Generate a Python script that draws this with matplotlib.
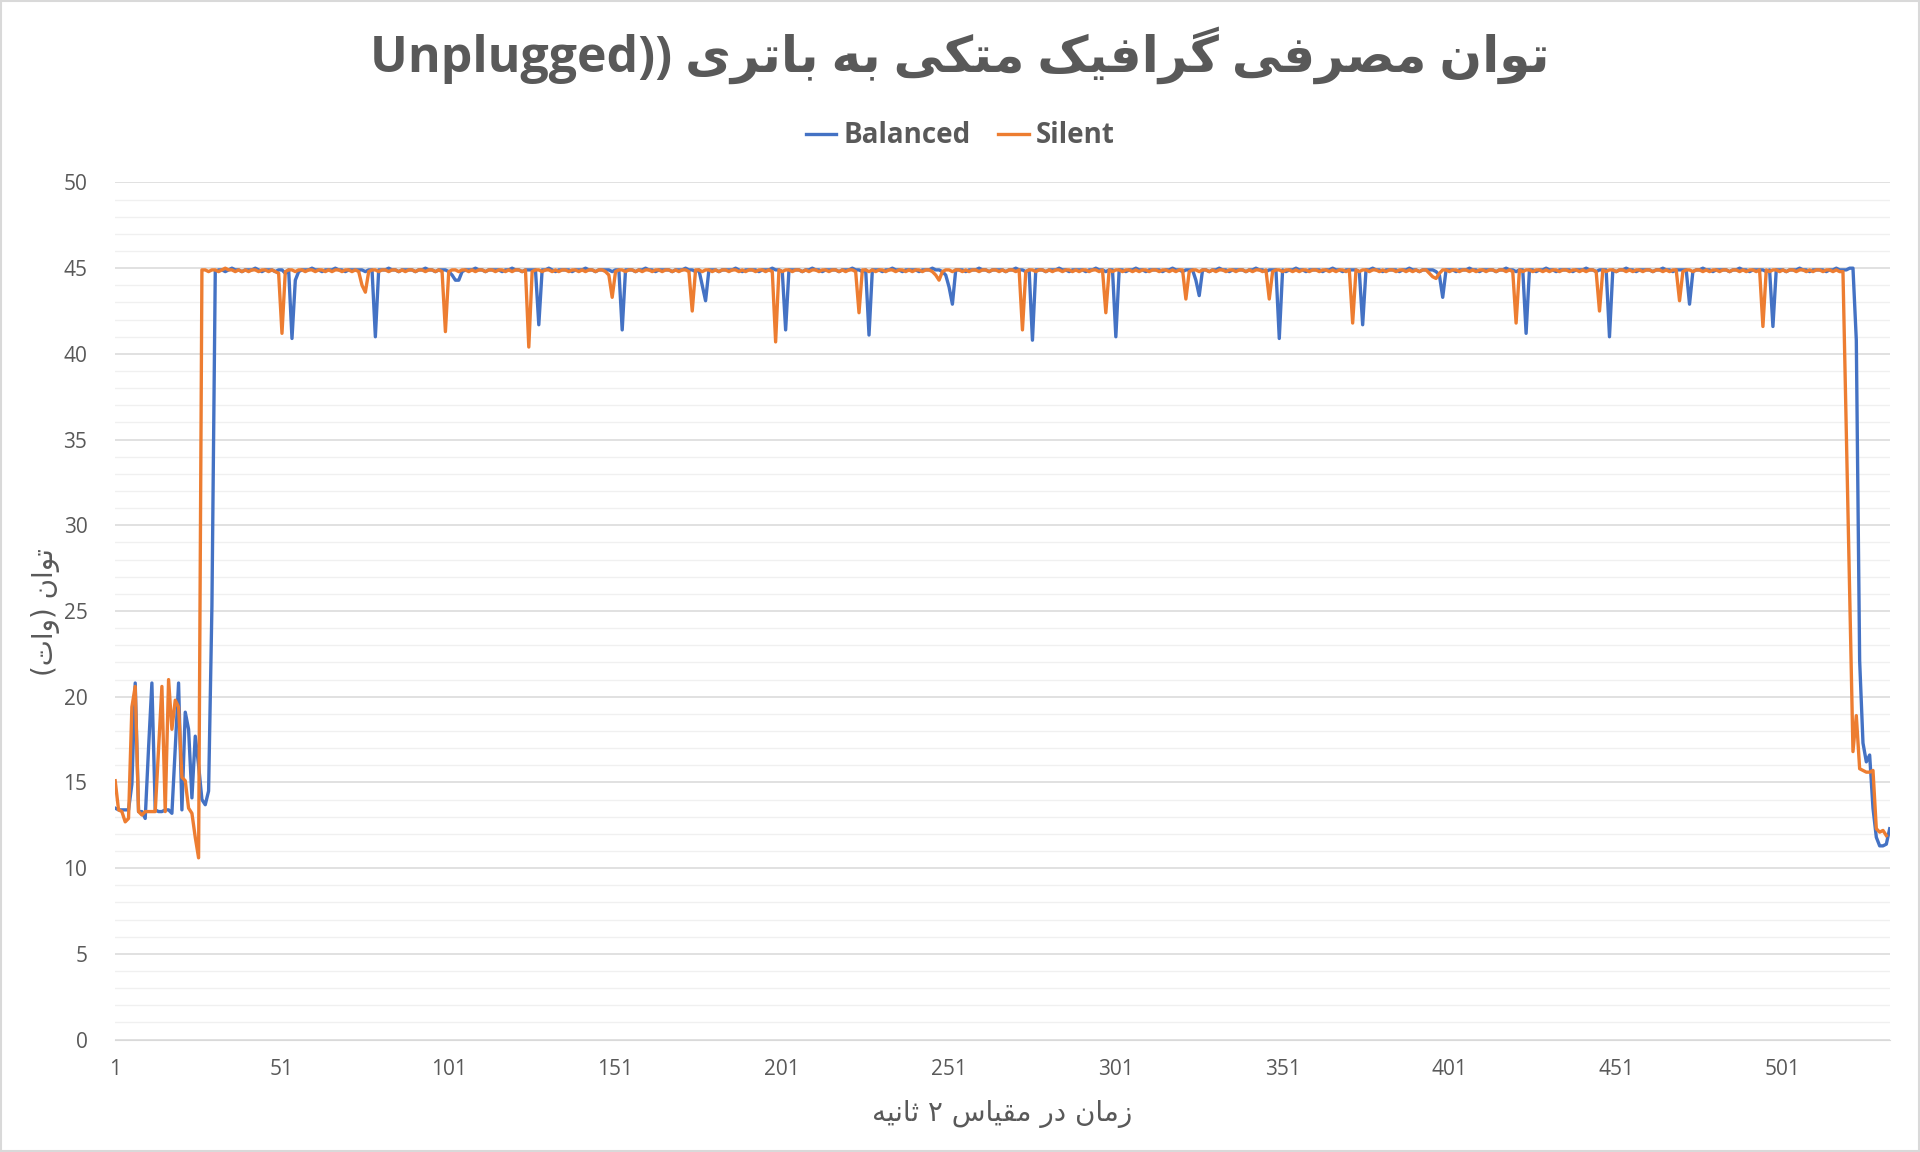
import unicodedata
import matplotlib
matplotlib.use("Agg")
import matplotlib.pyplot as plt
from matplotlib.lines import Line2D
from matplotlib.patches import Rectangle
from matplotlib.ticker import MultipleLocator

# power draw (W), one sample per 2 s
balanced = [
    13.5, 13.4, 13.4, 13.4, 13.4, 14.9, 20.8, 13.3, 13.3, 12.9, 17.0, 20.8, 13.4, 13.3, 13.3, 13.4, 13.4, 13.2, 17.0, 20.8,
    13.4, 19.1, 18.1, 14.1, 17.7, 16.0, 14.0, 13.7, 14.5, 25.3, 44.8, 44.9, 44.9, 44.8, 44.9, 45.0, 44.9, 44.9, 44.8, 44.9,
    44.9, 44.9, 45.0, 44.9, 44.8, 44.9, 44.9, 44.9, 44.8, 44.9, 44.9, 44.7, 44.9, 40.9, 44.3, 44.8, 44.9, 44.9, 44.9, 45.0,
    44.9, 44.9, 44.8, 44.9, 44.9, 44.9, 45.0, 44.9, 44.9, 44.8, 44.9, 44.9, 44.9, 44.9, 44.9, 44.8, 44.9, 44.9, 41.0, 44.9,
    44.9, 44.9, 45.0, 44.9, 44.9, 44.8, 44.9, 44.9, 44.9, 44.9, 44.8, 44.9, 44.9, 45.0, 44.9, 44.9, 44.8, 44.9, 44.9, 44.9,
    44.8, 44.6, 44.3, 44.3, 44.8, 44.9, 44.9, 44.9, 45.0, 44.9, 44.9, 44.8, 44.9, 44.9, 44.9, 44.9, 44.8, 44.9, 44.9, 45.0,
    44.9, 44.9, 44.8, 44.9, 44.9, 44.9, 44.9, 41.7, 44.9, 44.9, 45.0, 44.9, 44.8, 44.9, 44.9, 44.9, 44.9, 44.8, 44.9, 44.9,
    44.9, 45.0, 44.9, 44.9, 44.8, 44.9, 44.9, 44.9, 44.9, 44.8, 44.9, 44.9, 41.4, 44.9, 44.9, 44.9, 44.8, 44.9, 44.9, 45.0,
    44.9, 44.9, 44.8, 44.9, 44.9, 44.9, 44.9, 44.8, 44.9, 44.9, 44.9, 45.0, 44.9, 44.9, 44.8, 44.9, 44.0, 43.1, 44.9, 44.9,
    44.9, 44.8, 44.9, 44.9, 44.9, 44.9, 45.0, 44.9, 44.8, 44.9, 44.9, 44.9, 44.9, 44.8, 44.9, 44.9, 44.9, 45.0, 44.9, 44.9,
    44.8, 41.4, 44.9, 44.9, 44.9, 44.9, 44.8, 44.9, 44.9, 45.0, 44.9, 44.9, 44.8, 44.9, 44.9, 44.9, 44.9, 44.8, 44.9, 44.9,
    44.9, 45.0, 44.9, 44.9, 44.8, 44.9, 41.1, 44.9, 44.9, 44.9, 44.8, 44.9, 44.9, 45.0, 44.9, 44.9, 44.8, 44.9, 44.9, 44.9,
    44.9, 44.8, 44.9, 44.9, 44.9, 45.0, 44.9, 44.9, 44.8, 44.6, 43.9, 42.9, 44.9, 44.9, 44.9, 44.8, 44.9, 44.9, 44.9, 45.0,
    44.9, 44.9, 44.8, 44.9, 44.9, 44.9, 44.9, 44.8, 44.9, 44.9, 45.0, 44.9, 44.9, 44.8, 44.9, 40.8, 44.9, 44.9, 44.9, 44.8,
    44.9, 44.9, 44.9, 45.0, 44.9, 44.9, 44.8, 44.9, 44.9, 44.9, 44.9, 44.8, 44.9, 44.9, 45.0, 44.9, 44.9, 44.8, 44.9, 44.9,
    41.0, 44.9, 44.9, 44.8, 44.9, 44.9, 45.0, 44.9, 44.9, 44.8, 44.9, 44.9, 44.9, 44.9, 44.8, 44.9, 44.9, 45.0, 44.9, 44.9,
    44.8, 44.9, 44.9, 44.9, 44.3, 43.4, 44.9, 44.9, 44.8, 44.9, 44.9, 45.0, 44.9, 44.9, 44.8, 44.9, 44.9, 44.9, 44.9, 44.8,
    44.9, 44.9, 45.0, 44.9, 44.9, 44.8, 44.9, 44.9, 44.9, 40.9, 44.9, 44.8, 44.9, 44.9, 45.0, 44.9, 44.9, 44.8, 44.9, 44.9,
    44.9, 44.9, 44.8, 44.9, 44.9, 45.0, 44.9, 44.9, 44.8, 44.9, 44.9, 44.9, 44.9, 44.8, 41.7, 44.9, 44.9, 45.0, 44.9, 44.9,
    44.8, 44.9, 44.9, 44.9, 44.9, 44.8, 44.9, 44.9, 45.0, 44.9, 44.9, 44.8, 44.9, 44.9, 44.9, 44.9, 44.8, 44.6, 43.3, 44.9,
    44.9, 44.9, 44.8, 44.9, 44.9, 44.9, 45.0, 44.9, 44.9, 44.8, 44.9, 44.9, 44.9, 44.9, 44.8, 44.9, 44.9, 45.0, 44.9, 44.9,
    44.8, 44.9, 44.9, 41.2, 44.9, 44.9, 44.8, 44.9, 44.9, 45.0, 44.9, 44.9, 44.8, 44.9, 44.9, 44.9, 44.9, 44.8, 44.9, 44.9,
    44.9, 45.0, 44.9, 44.9, 44.8, 44.9, 44.9, 44.9, 41.0, 44.9, 44.8, 44.9, 44.9, 45.0, 44.9, 44.9, 44.8, 44.9, 44.9, 44.9,
    44.9, 44.8, 44.9, 44.9, 45.0, 44.9, 44.9, 44.8, 44.9, 44.9, 44.9, 44.9, 42.9, 44.8, 44.9, 44.9, 45.0, 44.9, 44.9, 44.8,
    44.9, 44.9, 44.9, 44.9, 44.8, 44.9, 44.9, 45.0, 44.9, 44.9, 44.8, 44.9, 44.9, 44.9, 44.9, 44.8, 44.9, 41.6, 44.9, 44.9,
    44.9, 44.8, 44.9, 44.9, 44.9, 45.0, 44.9, 44.9, 44.8, 44.9, 44.9, 44.9, 44.9, 44.8, 44.9, 44.9, 45.0, 44.9, 44.9, 44.9,
    45.0, 45.0, 40.8, 22.1, 17.3, 16.2, 16.6, 13.5, 11.8, 11.3, 11.3, 11.4, 12.3,
]

silent = [
    15.1, 13.4, 13.3, 12.7, 12.9, 19.4, 20.6, 13.3, 13.1, 13.3, 13.3, 13.3, 13.3, 17.0, 20.6, 13.3, 21.0, 18.1, 19.8, 19.4,
    15.3, 15.1, 13.5, 13.2, 11.8, 10.6, 44.9, 44.9, 44.8, 44.9, 44.9, 44.8, 44.9, 45.0, 44.9, 44.9, 44.8, 44.9, 44.8, 44.9,
    44.8, 44.9, 44.9, 44.8, 44.9, 44.9, 44.8, 44.9, 44.8, 44.7, 41.2, 44.8, 44.9, 44.9, 44.8, 44.9, 44.9, 44.8, 44.9, 44.9,
    44.8, 44.9, 44.9, 44.8, 44.9, 44.8, 44.9, 44.9, 44.8, 44.9, 44.9, 44.8, 44.9, 44.8, 44.0, 43.6, 44.8, 44.9, 44.9, 44.8,
    44.9, 44.9, 44.8, 44.9, 44.9, 44.8, 44.9, 44.8, 44.9, 44.9, 44.8, 44.9, 44.9, 44.8, 44.9, 44.9, 44.8, 44.9, 44.8, 41.3,
    44.8, 44.9, 44.9, 44.8, 44.9, 44.9, 44.8, 44.9, 44.8, 44.9, 44.9, 44.8, 44.9, 44.9, 44.8, 44.9, 44.9, 44.8, 44.9, 44.8,
    44.9, 44.9, 44.8, 44.9, 40.4, 44.8, 44.9, 44.9, 44.8, 44.9, 44.9, 44.8, 44.9, 44.8, 44.9, 44.9, 44.8, 44.9, 44.9, 44.8,
    44.9, 44.8, 44.9, 44.9, 44.8, 44.9, 44.9, 44.8, 44.6, 43.3, 44.8, 44.9, 44.9, 44.8, 44.9, 44.9, 44.8, 44.9, 44.8, 44.9,
    44.9, 44.8, 44.9, 44.9, 44.8, 44.9, 44.9, 44.8, 44.9, 44.8, 44.9, 44.9, 44.8, 42.5, 44.9, 44.9, 44.8, 44.9, 44.9, 44.8,
    44.9, 44.8, 44.9, 44.9, 44.8, 44.9, 44.9, 44.8, 44.9, 44.8, 44.9, 44.9, 44.8, 44.9, 44.9, 44.8, 44.9, 44.8, 40.7, 44.9,
    44.8, 44.9, 44.9, 44.8, 44.9, 44.9, 44.8, 44.9, 44.8, 44.9, 44.9, 44.8, 44.9, 44.9, 44.8, 44.9, 44.9, 44.8, 44.9, 44.8,
    44.9, 44.9, 44.8, 42.4, 44.9, 44.9, 44.8, 44.9, 44.8, 44.9, 44.9, 44.8, 44.9, 44.9, 44.8, 44.9, 44.9, 44.8, 44.9, 44.8,
    44.9, 44.9, 44.8, 44.9, 44.9, 44.8, 44.6, 44.3, 44.8, 44.9, 44.9, 44.8, 44.9, 44.9, 44.8, 44.9, 44.8, 44.9, 44.9, 44.8,
    44.9, 44.9, 44.8, 44.9, 44.9, 44.8, 44.9, 44.8, 44.9, 44.9, 44.8, 44.9, 41.4, 44.8, 44.9, 44.9, 44.8, 44.9, 44.9, 44.8,
    44.9, 44.8, 44.9, 44.9, 44.8, 44.9, 44.9, 44.8, 44.9, 44.8, 44.9, 44.9, 44.8, 44.9, 44.9, 44.8, 44.9, 42.4, 44.9, 44.8,
    44.9, 44.9, 44.8, 44.9, 44.9, 44.8, 44.9, 44.8, 44.9, 44.9, 44.8, 44.9, 44.9, 44.8, 44.9, 44.9, 44.8, 44.9, 44.8, 44.9,
    44.9, 43.2, 44.8, 44.9, 44.9, 44.8, 44.9, 44.9, 44.8, 44.9, 44.8, 44.9, 44.9, 44.8, 44.9, 44.9, 44.8, 44.9, 44.9, 44.8,
    44.9, 44.8, 44.9, 44.9, 44.8, 44.9, 43.2, 44.8, 44.9, 44.9, 44.8, 44.9, 44.9, 44.8, 44.9, 44.8, 44.9, 44.9, 44.8, 44.9,
    44.9, 44.8, 44.9, 44.9, 44.8, 44.9, 44.8, 44.9, 44.9, 44.8, 44.9, 41.8, 44.9, 44.8, 44.9, 44.9, 44.8, 44.9, 44.9, 44.8,
    44.9, 44.8, 44.9, 44.9, 44.8, 44.9, 44.9, 44.8, 44.9, 44.8, 44.9, 44.8, 44.9, 44.9, 44.7, 44.5, 44.4, 44.7, 44.9, 44.9,
    44.8, 44.9, 44.9, 44.8, 44.9, 44.9, 44.8, 44.9, 44.8, 44.9, 44.9, 44.8, 44.9, 44.9, 44.8, 44.9, 44.9, 44.8, 44.9, 44.8,
    41.8, 44.9, 44.8, 44.9, 44.9, 44.8, 44.9, 44.9, 44.8, 44.9, 44.8, 44.9, 44.9, 44.8, 44.9, 44.9, 44.8, 44.9, 44.9, 44.8,
    44.9, 44.8, 44.9, 44.9, 44.8, 42.5, 44.9, 44.8, 44.9, 44.9, 44.8, 44.9, 44.9, 44.8, 44.9, 44.8, 44.9, 44.9, 44.8, 44.9,
    44.9, 44.8, 44.9, 44.9, 44.8, 44.9, 44.8, 44.9, 44.9, 43.1, 44.8, 44.9, 44.9, 44.8, 44.9, 44.9, 44.8, 44.9, 44.8, 44.9,
    44.9, 44.8, 44.9, 44.9, 44.8, 44.9, 44.9, 44.8, 44.9, 44.8, 44.9, 44.9, 44.8, 44.9, 41.6, 44.9, 44.8, 44.9, 44.9, 44.8,
    44.9, 44.8, 44.9, 44.9, 44.8, 44.9, 44.9, 44.8, 44.9, 44.8, 44.9, 44.9, 44.8, 44.9, 44.9, 44.8, 44.9, 44.8, 44.8, 35.5,
    26.0, 16.8, 18.9, 15.8, 15.7, 15.6, 15.6, 15.7, 12.3, 12.1, 12.2, 11.9,
]

series_names = ["Balanced", "Silent"]
series_colors = ["#4472C4", "#ED7D31"]
x_ticks = [1, 51, 101, 151, 201, 251, 301, 351, 401, 451, 501]

title_fa = "توان مصرفی گرافیک متکی به باتری"
title_en = "Unplugged"
ylabel_fa = "توان (وات)"
xlabel_fa = "زمان در مقیاس ۲ ثانیه"

GREY = "#595959"
FONTS = ["Open Sans", "DejaVu Sans"]


def pres_form(ch, form):
    try:
        return unicodedata.lookup(unicodedata.name(ch) + " " + form + " FORM")
    except (KeyError, ValueError):
        return None


def rtl(text):
    """Shape Persian text into presentation forms and put it in visual order."""
    def is_ar(c):
        return unicodedata.name(c, "").startswith("ARABIC LETTER")

    def dual(c):
        return is_ar(c) and pres_form(c, "INITIAL") is not None

    out = []
    for i, c in enumerate(text):
        if not is_ar(c):
            out.append({"(": ")", ")": "("}.get(c, c))
            continue
        jp = i > 0 and dual(text[i - 1])
        jn = dual(c) and i + 1 < len(text) and is_ar(text[i + 1])
        form = "MEDIAL" if jp and jn else "FINAL" if jp else "INITIAL" if jn else "ISOLATED"
        out.append(pres_form(c, form) or c)
    return "".join(reversed(out))


fig = plt.figure(figsize=(19.2, 11.52), dpi=100)
ax = fig.add_axes([0.060, 0.0976, 0.9242, 0.744])

for name, vals, col in zip(series_names, [balanced, silent], series_colors):
    xs = list(range(1, len(vals) + 1))
    ax.plot(xs, vals, color=col, lw=2.4, solid_joinstyle="round", label=name)

ax.set_xlim(1, 533)
ax.set_ylim(0, 50)
ax.yaxis.set_major_locator(MultipleLocator(5))
ax.yaxis.set_minor_locator(MultipleLocator(1))
ax.set_xticks(x_ticks)
ax.grid(axis="y", which="major", color="#d9d9d9", lw=1.1)
ax.grid(axis="y", which="minor", color="#f0f0f0", lw=1.0)
ax.set_axisbelow(True)
for s in ["top", "right", "left"]:
    ax.spines[s].set_visible(False)
ax.spines["bottom"].set_color("#d9d9d9")
ax.tick_params(which="both", length=0)
ax.tick_params(axis="y", pad=20, labelsize=15, labelcolor=GREY)
ax.tick_params(axis="x", pad=14, labelsize=15, labelcolor=GREY)
for lab in ax.get_xticklabels() + ax.get_yticklabels():
    lab.set_family(FONTS)

fig.text(0.5, 0.952, title_en + ")) " + rtl(title_fa), ha="center", va="center",
         fontsize=36, fontweight="bold", color=GREY, family=FONTS)
fig.text(0.0236, 0.469, rtl(ylabel_fa), rotation=90, ha="center", va="center",
         fontsize=20, color=GREY, family=["DejaVu Sans"])
fig.text(0.522, 0.033, rtl(xlabel_fa), ha="center", va="center",
         fontsize=20, color=GREY, family=["DejaVu Sans"])

handles = [Line2D([], [], color=c, lw=2.4) for c in series_colors]
leg = fig.legend(handles, series_names, loc="center", bbox_to_anchor=(0.5, 0.882), ncol=2,
                 frameon=False, handlelength=1.1, handletextpad=0.25, columnspacing=1.0,
                 prop={"family": FONTS, "weight": "bold", "size": 20})
for t in leg.get_texts():
    t.set_color(GREY)

fig.patches.append(Rectangle((0.0005, 0.0005), 0.999, 0.999, transform=fig.transFigure,
                             fill=False, edgecolor="#d9d9d9", lw=1.5))

fig.savefig("out.png", dpi=100)
